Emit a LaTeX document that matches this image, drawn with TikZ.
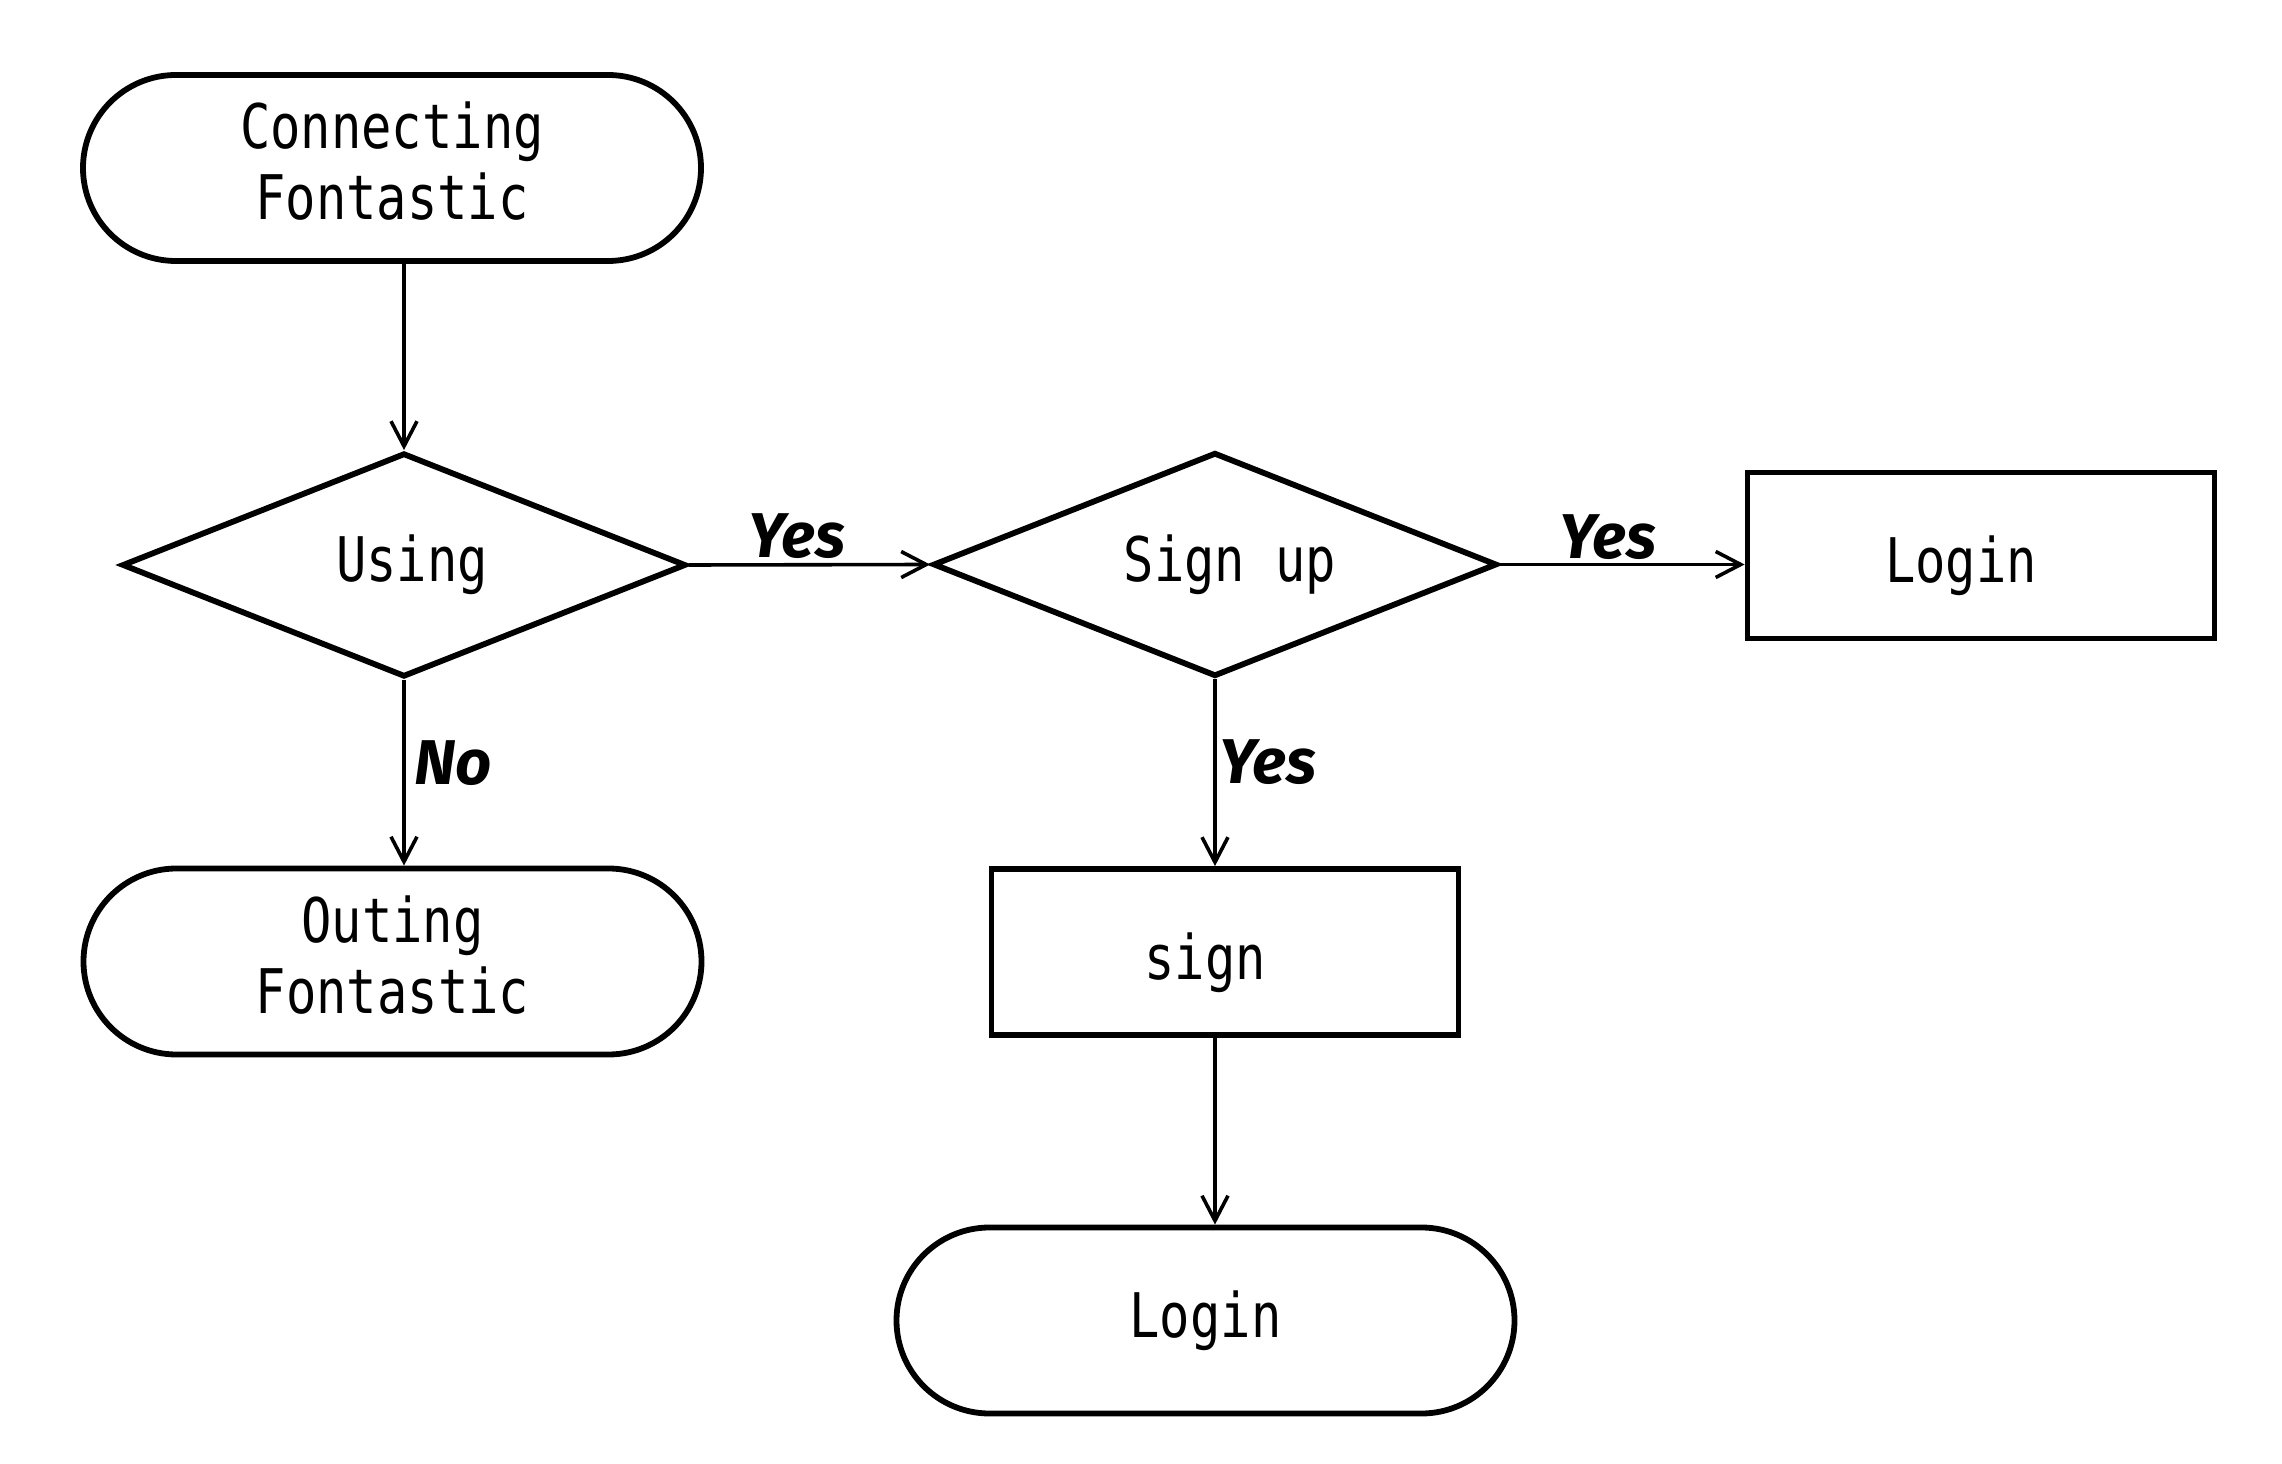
\documentclass[tikz,border=0pt]{standalone}
\usepackage{fontspec}
\usetikzlibrary{shapes.geometric,arrows.meta}
\newfontfamily\boxfont[FakeStretch=0.82]{DejaVu Sans Mono}
\newfontfamily\lblfont{Fira Sans}
\newcommand\txtshift[2]{\raisebox{#1}[\height][\depth]{\begin{tabular}{@{}c@{}}#2\end{tabular}}}
\tikzset{
  base/.style={draw, line width=0.058cm, font=\boxfont\fontsize{17.5}{20.2}\selectfont, align=center, inner sep=0pt},
  term/.style={base, rectangle, rounded corners=0.93cm, minimum width=6.18cm, minimum height=1.86cm},
  dec/.style={base, diamond, aspect=2.5, minimum width=5.64cm, minimum height=2.24cm},
  proc/.style={base, rectangle, minimum width=4.67cm, minimum height=1.66cm},
  arr/.style={line width=0.036cm, -{Straight Barb[length=0.25cm,width=0.26cm]}},
  lbl/.style={font=\lblfont\bfseries\itshape\fontsize{18}{20}\selectfont, inner sep=0pt}
}
\begin{document}
\begin{tikzpicture}
\fill[white] (0,0) rectangle (22.82,-14.64);
\useasboundingbox (0,0) rectangle (22.82,-14.64);

\node[term] (conn) at (3.92,-1.68) {\txtshift{-0.02cm}{Connecting\\Fontastic}};
\node[dec] (using) at (4.04,-5.65) {\hspace*{0.16cm}Using};
\node[dec] (signup) at (12.15,-5.645) {\hspace*{0.3cm}Sign up};
\node[proc] (login1) at (19.81,-5.555) {\txtshift{-0.13cm}{Login}\hspace*{0.4cm}};
\node[proc] (sign) at (12.25,-9.52) {\txtshift{-0.13cm}{sign}\hspace*{0.4cm}};
\node[term] (login2) at (12.055,-13.205) {Login};
\node[term] (outing) at (3.925,-9.615) {\txtshift{-0.02cm}{Outing\\Fontastic}};

\draw[arr] (conn.south -| using.north) -- (using.north);
\draw[arr] (using.east) -- (signup.west);
\draw[arr] (signup.east) -- (signup.east -| login1.west);
\draw[arr] (signup.south) -- (signup.south |- sign.north);
\draw[arr] (using.south) -- (using.south |- outing.north);
\draw[arr] (sign.south -| signup.south) -- (login2.north -| signup.south);

\node[lbl] (y1) at (7.97,-5.36) {Yes};
\node[lbl] (y2) at (16.08,-5.37) {Yes};
\node[lbl] (y3) at (12.68,-7.62) {Yes};
\node[lbl] (n1) at (4.53,-7.63) {No};
\end{tikzpicture}
\end{document}
